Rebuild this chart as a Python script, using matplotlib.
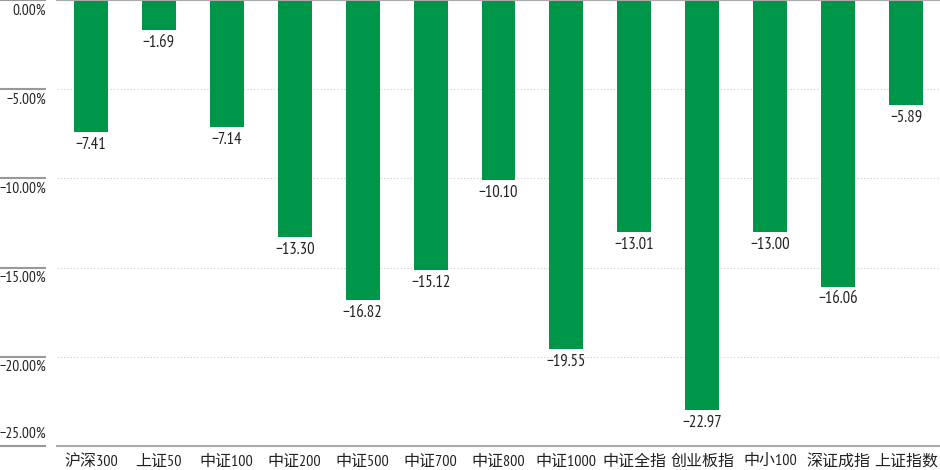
import matplotlib
matplotlib.use("Agg")
import matplotlib.pyplot as plt
import matplotlib.transforms as mtransforms
from matplotlib import font_manager

# 数据
names = ["沪深300", "上证50", "中证100", "中证200", "中证500", "中证700", "中证800",
         "中证1000", "中证全指", "创业板指", "中小100", "深证成指", "上证指数"]
values = [-7.41, -1.69, -7.14, -13.30, -16.82, -15.12, -10.10,
          -19.55, -13.01, -22.97, -13.00, -16.06, -5.89]
yticks = [0, -5, -10, -15, -20, -25]

installed = {f.name for f in font_manager.fontManager.ttflist}
narrow = [f for f in ["PT Sans Narrow", "Roboto Condensed", "Open Sans Condensed"] if f in installed]
fams = narrow + ["Noto Sans CJK SC", "DejaVu Sans"]
plt.rcParams['font.family'] = fams

green = "#00964a"
txt = "#222222"

fig = plt.figure(figsize=(9.4, 4.7), dpi=100)
ax = fig.add_axes([57 / 940, 24 / 470, 883 / 940, 446 / 470])

x = range(len(names))
ax.bar(x, values, width=0.5, color=green, zorder=3)
ax.set_xlim(-0.5, len(names) - 0.5)
ax.set_ylim(-25, 0)

# 网格线
for t in yticks[1:-1]:
    ax.axhline(t, color="#cccccc", lw=0.8, ls=(0, (1, 2)), zorder=1)
ax.axhline(0, color="#aaaaaa", lw=1.5, zorder=4, clip_on=False)
ax.axhline(-25, color="#aaaaaa", lw=1.5, zorder=4, clip_on=False)

for s in ax.spines.values():
    s.set_visible(False)
ax.set_yticks([])
ax.set_xticks(list(x))
ax.set_xticklabels(names, fontsize=11.5, color=txt)
ax.tick_params(axis="x", length=0, pad=6)

# 左侧刻度线与标签
trans = mtransforms.blended_transform_factory(fig.transFigure, ax.transData)
for t in yticks:
    ax.plot([0, 45 / 940], [t, t], color="#999999", lw=1.5, transform=trans,
            clip_on=False)
    last = t == yticks[-1]
    ax.annotate(f"{t:.2f}%".replace("-", "\u2212"), xy=(46 / 940, t), xycoords=trans,
                xytext=(0, 4 if last else -2.5), textcoords="offset points",
                ha="right", va="bottom" if last else "top", fontsize=11, color=txt,
                annotation_clip=False)

# 数值标签
for i, v in enumerate(values):
    ax.annotate(f"{v:.2f}".replace("-", "\u2212"), xy=(i, v), xytext=(0, -3.5),
                textcoords="offset points", ha="center", va="top",
                fontsize=12, color=txt)

fig.savefig("out.png", dpi=100)
